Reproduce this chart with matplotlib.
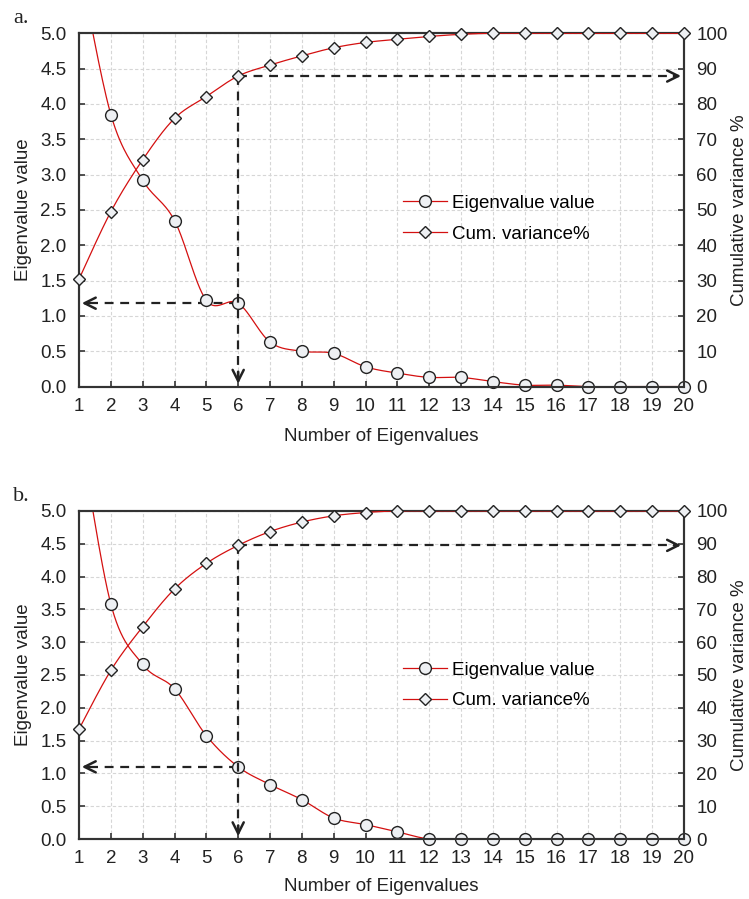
import numpy as np
import matplotlib
matplotlib.use("Agg")
import matplotlib.pyplot as plt
from matplotlib.lines import Line2D

plt.rcParams['font.family'] = ['Liberation Sans', 'DejaVu Sans']
plt.rcParams['font.size'] = 13

# data
components = np.arange(1, 21)
eig_a = [6.03, 3.85, 2.92, 2.35, 1.22, 1.18, 0.63, 0.50, 0.47, 0.28,
         0.19, 0.13, 0.13, 0.07, 0.02, 0.02, 0.0, 0.0, 0.0, 0.0]
cum_a = [30.4, 49.5, 64.2, 75.9, 82.1, 87.9, 91.0, 93.6, 95.9, 97.4,
         98.3, 99.1, 99.7, 100, 100, 100, 100, 100, 100, 100]
eig_b = [6.3, 3.58, 2.66, 2.29, 1.575, 1.10, 0.83, 0.60, 0.32, 0.22,
         0.11, 0.0, 0.0, 0.0, 0.0, 0.0, 0.0, 0.0, 0.0, 0.0]
cum_b = [33.5, 51.4, 64.7, 76.2, 84.0, 89.5, 93.7, 96.6, 98.5, 99.5,
         100, 100, 100, 100, 100, 100, 100, 100, 100, 100]
cut = 6  # number of retained eigenvalues

RED = '#d41010'
DARK = '#333333'
FACE = '#eef0f3'


def smooth(x, y, n=30):
    # Excel-like smoothed line (Catmull-Rom as cubic Bezier)
    x = np.asarray(x, float)
    y = np.asarray(y, float)
    px = np.concatenate([[x[0]], x, [x[-1]]])
    py = np.concatenate([[y[0]], y, [y[-1]]])
    t = np.linspace(0, 1, n)[:, None]
    out = []
    for i in range(len(x) - 1):
        p0 = np.array([px[i], py[i]])
        p1 = np.array([px[i + 1], py[i + 1]])
        p2 = np.array([px[i + 2], py[i + 2]])
        p3 = np.array([px[i + 3], py[i + 3]])
        b1 = p1 + (p2 - p0) / 6
        b2 = p2 - (p3 - p1) / 6
        seg = ((1 - t) ** 3) * p1 + 3 * ((1 - t) ** 2) * t * b1 + \
            3 * (1 - t) * t ** 2 * b2 + t ** 3 * p2
        out.append(seg)
    out = np.vstack(out)
    return out[:, 0], out[:, 1]


def panel(pos, eig, cum, letter, xlab_y, leg_y):
    ax = fig.add_axes(pos)
    ax2 = ax.twinx()

    ax.set_xlim(1, 20)
    ax.set_ylim(0, 5)
    ax2.set_ylim(0, 100)
    ax.set_xticks(components)
    ax.set_yticks(np.arange(0, 5.01, 0.5))
    ax.set_yticklabels(['%.1f' % v for v in np.arange(0, 5.01, 0.5)])
    ax2.set_yticks(np.arange(0, 101, 10))

    ax.grid(True, color='#d6d6d6', linestyle=(0, (3, 2)), linewidth=0.8)
    ax.set_axisbelow(True)

    for a in (ax, ax2):
        for s in a.spines.values():
            s.set_color(DARK)
            s.set_linewidth(1.5)
    ax.tick_params(direction='in', length=4, width=1.2, color=DARK,
                   labelcolor='#222222', labelsize=13.5, pad=9)
    ax.tick_params(axis='x', pad=8)
    ax2.tick_params(direction='in', length=4, width=1.2, color=DARK,
                    labelcolor='#222222', labelsize=13.5, pad=9)

    # eigenvalues
    sx, sy = smooth(components, eig)
    ax.plot(sx, sy, color=RED, lw=0.9, zorder=3)
    e = np.array(eig)
    ax.plot(components, np.where(e <= 5, e, np.nan), ls='none', marker='o',
            ms=8.5, mfc=FACE, mec='#222222', mew=1.0, clip_on=False, zorder=4)

    # cumulative variance
    cx, cy = smooth(components, cum)
    ax2.plot(cx, cy, color=RED, lw=0.9, zorder=3)
    ax2.plot(components, cum, ls='none', marker='D', ms=6.5, mfc=FACE,
             mec='#222222', mew=1.0, clip_on=False, zorder=4)

    # dashed guide lines with arrows
    xk = components[cut - 1]
    ek = eig[cut - 1]
    ck = cum[cut - 1]
    dash = dict(color='#222222', lw=1.6, ls=(0, (4, 3)), zorder=2)
    arrow = dict(arrowstyle='->', color='#222222', lw=1.8, mutation_scale=20)
    ax.plot([xk, components[0] + 0.25], [ek, ek], **dash)
    ax.annotate('', xy=(components[0], ek), xytext=(components[0] + 0.4, ek),
                arrowprops=arrow)
    ax2.plot([xk, xk], [ck, 3], **dash)
    ax2.annotate('', xy=(xk, 0), xytext=(xk, 5), arrowprops=arrow)
    ax2.plot([xk, components[-1] - 0.25], [ck, ck], **dash)
    ax2.annotate('', xy=(components[-1], ck), xytext=(components[-1] - 0.4, ck),
                 arrowprops=arrow)

    ax.set_xlabel('Number of Eigenvalues', fontsize=13.5, color='#222222')
    ax.set_ylabel('Eigenvalue value', fontsize=13.5, color='#222222')
    ax2.set_ylabel('Cumulative variance %', fontsize=13.5, color='#222222')
    ax.xaxis.set_label_coords(0.5, xlab_y)
    ax.xaxis.label.set_va('center')
    ax.yaxis.set_label_coords(-0.0926, 0.5)
    ax.yaxis.label.set_va('center')
    ax2.yaxis.set_label_coords(1.0926, 0.5)
    ax2.yaxis.label.set_va('center')

    handles = [
        Line2D([], [], color=RED, lw=0.9, marker='o', ms=8.5, mfc=FACE,
               mec='#222222', mew=1.0),
        Line2D([], [], color=RED, lw=0.9, marker='D', ms=6.5, mfc=FACE,
               mec='#222222', mew=1.0),
    ]
    ax2.legend(handles, ['Eigenvalue value', 'Cum. variance%'],
               loc='center left', bbox_to_anchor=(0.524, leg_y),
               frameon=False, fontsize=13.5, handlelength=2.3,
               handletextpad=0.3, labelspacing=0.72, borderaxespad=0)

    fig.text(pos[0] - 0.088, pos[1] + pos[3] + 0.016, letter,
             family='Liberation Serif', fontsize=16, color='#222222',
             ha='left', va='center')
    return ax


fig = plt.figure(figsize=(7.49, 8.99), dpi=100)
panel([0.1055, 0.570, 0.8075, 0.393], eig_a, cum_a, 'a.', -0.14, 0.475)
panel([0.1055, 0.0667, 0.8075, 0.365], eig_b, cum_b, 'b.', -0.146, 0.468)

fig.savefig('out.png', dpi=100)
